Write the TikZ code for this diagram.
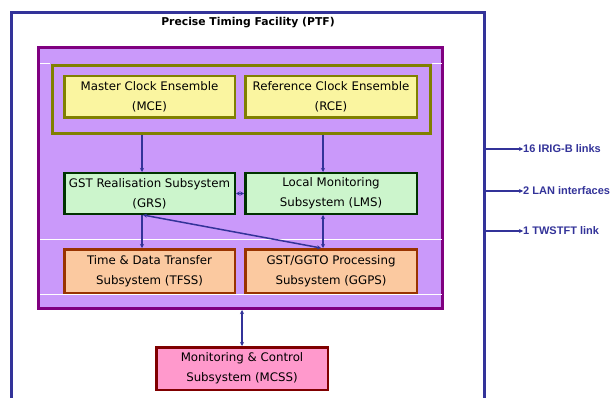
\documentclass[tikz,border=0pt]{standalone}
\usepackage{fontspec}
\setmainfont{DejaVu Sans}
\newfontfamily\labfont{Liberation Sans}
\usetikzlibrary{arrows.meta}
\definecolor{bl}{HTML}{333399}
\definecolor{purb}{HTML}{800080}
\definecolor{purf}{HTML}{CA99FA}
\definecolor{olv}{HTML}{808000}
\definecolor{ylw}{HTML}{FAF5A0}
\definecolor{grnf}{HTML}{CCF5CC}
\definecolor{grnb}{HTML}{003300}
\definecolor{orf}{HTML}{FBC9A0}
\definecolor{orb}{HTML}{993300}
\definecolor{pkf}{HTML}{FF99CC}
\definecolor{pkb}{HTML}{800000}
\tikzset{
  sub/.style={draw, line width=2.5pt, minimum width=170.5pt, minimum height=41.5pt,
    align=center, inner sep=0pt, font=\fontsize{11.8}{20}\selectfont},
  arr/.style={draw=bl, line width=1.5pt, -{Stealth[length=4pt,width=4pt]}},
  darr/.style={draw=bl, line width=1.5pt, {Stealth[length=4pt,width=4pt]}-{Stealth[length=4pt,width=4pt]}},
  linklab/.style={anchor=west, inner sep=0pt, text=bl, font=\labfont\bfseries\fontsize{11}{13}\selectfont},
  wline/.style={draw=white, line width=0.8pt}
}
\begin{document}
\begin{tikzpicture}[x=1pt,y=-1pt]
\useasboundingbox (0,0) rectangle (610,398);
% outer PTF frame (open at bottom)
\draw[bl, line width=3pt] (11.5,398) -- (11.5,12.5) -- (484.5,12.5) -- (484.5,398);
\node[font=\bfseries\fontsize{10.8}{13}\selectfont] (title) at (248,22.5) {Precise Timing Facility (PTF)};
% purple subsystem area
\node[draw=purb, fill=purf, line width=3pt, minimum width=404pt, minimum height=261pt, inner sep=0pt] (area) at (240.5,178) {};
% white separator lines
\draw[wline] (40,63.5) -- (50,63.5);
\draw[wline] (432,63.5) -- (442,63.5);
\draw[wline] (40,239) -- (442,239);
\draw[wline] (40,294.5) -- (442,294.5);
% olive clock ensemble frame
\node[draw=olv, line width=3pt, minimum width=378pt, minimum height=68pt, inner sep=0pt] (clk) at (241.5,99.5) {};
\node[sub, draw=olv, fill=ylw] (mce) at (149.5,97) {Master Clock Ensemble\\(MCE)};
\node[sub, draw=olv, fill=ylw, minimum width=171.5pt] (rce) at (331,97) {Reference Clock Ensemble\\(RCE)};
\node[sub, draw=grnb, fill=grnf, minimum height=40.5pt] (grs) at (149.5,193.5) {GST Realisation Subsystem\\(GRS)};
\node[sub, draw=grnb, fill=grnf, minimum height=40.5pt, minimum width=171.5pt] (lms) at (331,193.5) {Local Monitoring\\Subsystem (LMS)};
\node[sub, draw=orb, fill=orf, minimum height=43.5pt] (tfss) at (149.5,271) {Time \& Data Transfer\\Subsystem (TFSS)};
\node[sub, draw=orb, fill=orf, minimum height=43.5pt, minimum width=171.5pt] (ggps) at (331,271) {GST/GGTO Processing\\Subsystem (GGPS)};
\node[sub, draw=pkb, fill=pkf, minimum height=42.5pt, minimum width=171.5pt] (mcss) at (242,368.5) {Monitoring \& Control\\Subsystem (MCSS)};
% connectors
\draw[arr] ([xshift=-7.5pt]clk.south -| grs.north) -- ([xshift=-7.5pt]grs.north);
\draw[arr] ([xshift=-8pt]clk.south -| lms.north) -- ([xshift=-8pt]lms.north);
\draw[darr] (grs.east) -- (lms.west);
\draw[arr] ([xshift=-7.5pt]grs.south) -- ([xshift=-7.5pt]tfss.north);
\draw[darr] ([xshift=-8pt]lms.south) -- ([xshift=-8pt]ggps.north);
\draw[darr] ([xshift=-6.5pt]grs.south) -- ([xshift=-10pt]ggps.north);
\draw[darr] (area.south -| mcss.north) -- (mcss.north);
% external links
\coordinate (r1) at (484.5,149);
\coordinate (r2) at (484.5,191);
\coordinate (r3) at (484.5,231);
\node[linklab] (l1) at (523,149) {16 IRIG-B links};
\node[linklab] (l2) at (523,191) {2 LAN interfaces};
\node[linklab] (l3) at (523,231) {1 TWSTFT link};
\draw[arr] (r1) -- (l1.west);
\draw[arr] (r2) -- (l2.west);
\draw[arr] (r3) -- (l3.west);
\end{tikzpicture}
\end{document}
